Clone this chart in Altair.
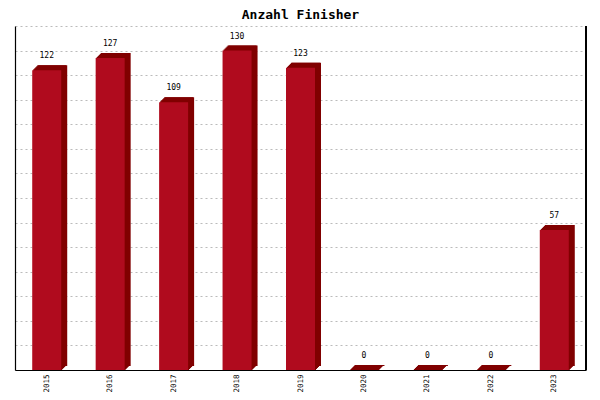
import altair as alt
import pandas as pd

years = ["2015", "2016", "2017", "2018", "2019", "2020", "2021", "2022", "2023"]
finishers = [122, 127, 109, 130, 123, 0, 0, 0, 57]
title_text = ["Anzahl Finisher"]

df = pd.DataFrame({"year": years, "n": finishers})
tdf = pd.DataFrame({"t": title_text})

FRONT = "#B00B1E"
DARK = "#800000"
FONT = "DejaVu Sans Mono"

W, H = 571, 344

x = alt.X("year:N", sort=years, title=None,
          scale=alt.Scale(paddingInner=0.0, paddingOuter=0.0),
          axis=alt.Axis(labelAngle=270, labelFontSize=7.5, labelFont=FONT, labelColor="black",
                        ticks=False, labelPadding=4, domainColor="black", domainWidth=1.2,
                        grid=False))
y = alt.Y("n:Q", title=None,
          scale=alt.Scale(domain=[0, 140], nice=False),
          axis=alt.Axis(values=list(range(0, 141, 10)), labels=False, ticks=False,
                        domainColor="black", domainWidth=1.2, grid=True, labelOverlap=False,
                        gridColor="#bbbbbb", gridDash=[2, 3], gridWidth=1))
y2 = alt.Y2(datum=0)

base = alt.Chart(df)

steps = [(1, 1), (2, 2), (3, 3), (4, 4), (5, 5), (6, 5)]
layers = []
for dx, dy in steps:
    layers.append(
        base.mark_bar(size=29, color=DARK, xOffset=dx, x2Offset=dx,
                      yOffset=-dy, y2Offset=-(dy - 1))
        .encode(x=x, y=y, y2=y2)
    )

front = base.mark_bar(size=29, color=FRONT).encode(x=x, y=y, y2=y2)

labels = base.mark_text(font=FONT, fontSize=8, color="black", dy=-12, baseline="alphabetic") \
    .encode(x=x, y=y, text="n:Q")

title = alt.Chart(tdf).mark_text(font=FONT, fontSize=13, fontWeight="bold", color="black",
                                 baseline="alphabetic", align="center").encode(
    x=alt.value(W / 2), y=alt.value(-7), text="t:N")

right_border = alt.Chart(df).mark_rule(color="black", strokeWidth=1.2).encode(
    x=alt.value(W), y=alt.value(0), y2=alt.value(H))

chart = alt.layer(*layers, front, labels, right_border, title).properties(
    width=W, height=H,
    autosize=alt.AutoSizeParams(type="none"),
    padding={"left": 7, "top": 18, "right": 6, "bottom": 22},
).configure_view(stroke=None)

chart.save("out.html", embed_options={"renderer": "svg", "actions": False})
